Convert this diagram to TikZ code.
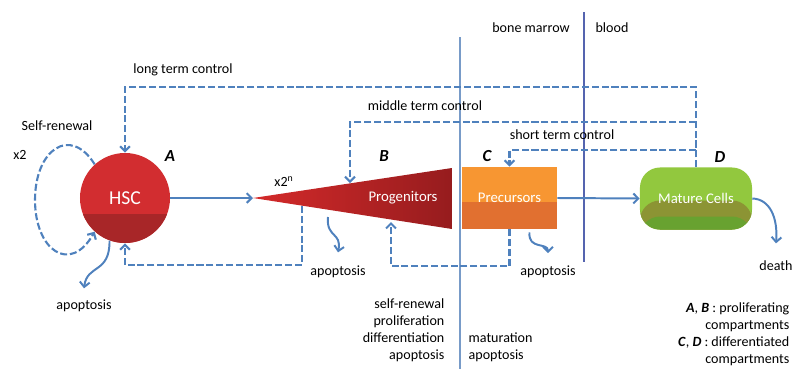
\documentclass[tikz,border=0pt]{standalone}
\usepackage{fontspec}
\setmainfont{Carlito}
\usetikzlibrary{arrows.meta,positioning}

\definecolor{ctrlblue}{RGB}{79,129,189}
\definecolor{lineblue}{RGB}{120,155,200}
\definecolor{borderblue}{RGB}{85,100,175}
\definecolor{hscred}{RGB}{210,45,48}
\definecolor{hscdark}{RGB}{168,38,40}
\definecolor{progleft}{RGB}{212,42,42}
\definecolor{progright}{RGB}{150,28,30}
\definecolor{precorange}{RGB}{247,150,50}
\definecolor{precdark}{RGB}{225,112,48}
\definecolor{matgreen}{RGB}{146,200,62}
\definecolor{matolive}{RGB}{140,148,52}
\definecolor{matdark}{RGB}{104,162,48}

\tikzset{
    ctrl/.style={draw=ctrlblue, line width=1.5pt, dash pattern=on 5pt off 2pt,
        -{Straight Barb[length=3.5pt,width=7pt]}},
    flow/.style={draw=ctrlblue, line width=1.4pt,
        -{Straight Barb[length=3.5pt,width=7pt]}},
    lbl/.style={font=\fontsize{10}{12}\selectfont, inner sep=1pt},
    letter/.style={font=\fontsize{12}{14}\selectfont\bfseries\itshape, inner sep=1pt},
    cellname/.style={text=white, font=\fontsize{10.5}{12}\selectfont},
    hsc/.style={circle, minimum size=2.25cm, inner sep=0pt, fill=hscred,
        text=white, font=\fontsize{14}{16}\selectfont,
        path picture={\fill[hscdark] ([yshift=-0.4cm]path picture bounding box.west)
            rectangle (path picture bounding box.south east);}},
    precbox/.style={rectangle, minimum width=2.375cm, minimum height=1.55cm,
        inner sep=0pt, fill=precorange, cellname,
        path picture={\fill[precdark] ([yshift=-0.1cm]path picture bounding box.west)
            rectangle (path picture bounding box.south east);}},
    maturebox/.style={rectangle, rounded corners=0.5cm, minimum width=2.8cm,
        minimum height=1.55cm, inner sep=0pt, fill=matgreen, cellname,
        path picture={\fill[matolive] ([yshift=-0.05cm]path picture bounding box.west)
            rectangle (path picture bounding box.south east);
            \fill[matdark] ([yshift=-0.45cm]path picture bounding box.west)
            rectangle (path picture bounding box.south east);}},
}

\begin{document}
\begin{tikzpicture}[x=0.025cm, y=-0.025cm]
\useasboundingbox (0,0) rectangle (792,369);

% ============================================
% 1. GRANICE
% ============================================
\draw[lineblue, line width=0.8pt] (460,37) -- (460,369);
\draw[borderblue, line width=1.8pt] (584,12) -- (584,262);
\node[lbl] (marrow) at (531,28) {bone marrow};
\node[lbl] (blood) at (612,28) {blood};

% ============================================
% 2. KONTROLA
% ============================================
\coordinate (midright) at (696,122);
\coordinate (shortright) at (696,150);
\coordinate (progtop) at (350,183);
\node[lbl] (longlbl) at (183,70) {long term control};
\node[lbl] (midlbl) at (425,106) {middle term control};
\node[lbl] (shortlbl) at (562,135) {short term control};

% ============================================
% 3. PRZEDZIALY
% ============================================
\node[hsc] (HSC) at (125,198) {HSC};

\coordinate (progtip) at (253,198);
\coordinate (progtr) at (452,168);
\coordinate (progbr) at (452,229);
\shade[left color=progleft, right color=progright] (progtip) -- (progtr) -- (progbr) -- cycle;
\node[cellname] (prog) at (403,198) {Progenitors};

\node[precbox] (prec) at (509.5,198) {Precursors};
\node[maturebox] (mature) at (696,198.5) {Mature Cells};

\node[letter] (A) at (170,156) {A};
\node[letter] (B) at (384,156) {B};
\node[letter] (C) at (487,156) {C};
\node[letter] (D) at (720,157) {D};
\node[lbl] (selfren) at (57,126) {Self-renewal};
\node[lbl] (x2) at (20,155) {x2};
\node[lbl] (x2n) at (284,182) {x2\textsuperscript{n}};

% sprzezenia
\draw[ctrl] (mature.north) -- ++(0,-80) -| (HSC.north);
\draw[ctrl] (midright) -| (progtop);
\draw[ctrl] (shortright) -| (prec.north);

\coordinate (progfb) at (302,206);
\coordinate (progin) at (391,222);
\draw[ctrl] (progfb) -- (302,265) -| (HSC.south);
\draw[ctrl] (prec.south) -- (509.5,266) -| (progin);

% samoodnowa
\draw[ctrl] (HSC.132) .. controls (70,125) and (35,150) .. (35,200)
    .. controls (35,250) and (70,275) .. (HSC.228);

% przeplyw
\draw[flow] (HSC.east) -- (progtip);
\draw[flow] (prec.east) -- (mature.west);

% ============================================
% 4. APOPTOZA
% ============================================
\node[lbl] (apohsc) at (84,306) {apoptosis};
\node[lbl] (apoprog) at (338,272) {apoptosis};
\node[lbl] (apoprec) at (548,272) {apoptosis};
\node[lbl] (death) at (776,266) {death};
\coordinate (progapo) at (328,217);

\draw[flow] (HSC.250) .. controls (110,274) and (87,264) .. ([yshift=0.25cm]apohsc.north);
\draw[flow] (progapo) .. controls (326,238) and (342,232) .. ([yshift=0.3cm]apoprog.north);
\draw[flow] ([xshift=0.5cm,yshift=-0.08cm]prec.south) .. controls (528,250) and (548,242)
    .. ([yshift=0.28cm]apoprec.north);
\draw[flow] (mature.east) .. controls (770,199) and (778,218) .. ([yshift=0.4cm]death.north);

% ============================================
% 5. OPISY
% ============================================
\node[lbl, align=right, anchor=north east] (bmtext) at (446,297)
    {self-renewal\\proliferation\\differentiation\\apoptosis};
\node[lbl, align=left, anchor=north west] (bltext) at (467,331)
    {maturation\\apoptosis};
\node[lbl, align=right, anchor=north east] (legend) at (791,301)
    {\textbf{\textit{A}}, \textbf{\textit{B}} : proliferating\\compartments\\
     \textbf{\textit{C}}, \textbf{\textit{D}} : differentiated\\compartments};

\end{tikzpicture}
\end{document}
